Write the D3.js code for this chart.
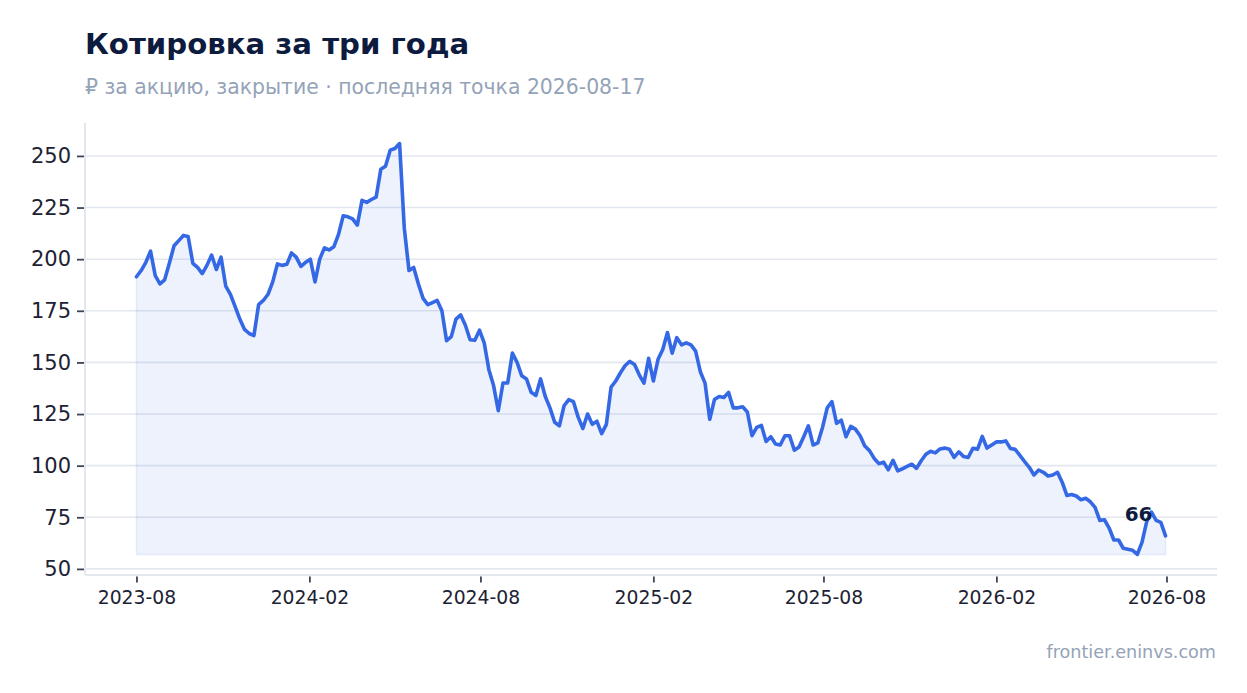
<!DOCTYPE html>
<html>
<head>
<meta charset="utf-8">
<script src="https://cdn.jsdelivr.net/npm/d3@7/dist/d3.min.js"></script>
<style>
  html, body { margin: 0; padding: 0; background: #ffffff; }
  svg { display: block; font-family: "DejaVu Sans", sans-serif; }
</style>
</head>
<body>
<svg id="chart" width="1247" height="693"></svg>
<script>
// ---------------- data ----------------
const startDate = "2023-08-18";   // first close
const stepDays = 5;               // one reading every 5 calendar days
const closes = [
  191.5, 194.5, 198.5, 203.9, 192, 188, 190, 198, 206.5, 209,
  211.5, 211, 198, 196, 193, 197, 202, 195, 201, 187,
  183, 177, 171, 166, 164, 163, 178, 180, 183, 189,
  197.7, 197, 197.5, 203, 201, 196.5, 198.5, 200, 189, 200,
  205.5, 204.5, 206, 212, 221, 220.5, 219.5, 216.5, 228.5, 227.5,
  228.9, 230, 243.5, 245, 252.8, 253.6, 256, 215, 194.5, 196,
  188, 181, 178, 179, 180, 175, 160.5, 162.5, 171, 173,
  168, 161, 160.7, 165.6, 159.5, 146.5, 138.8, 126.6, 140, 140,
  154.5, 150, 143.5, 142, 135.5, 134, 142, 133.5, 128, 121,
  119.3, 129, 132, 131, 123.5, 118, 125, 120, 121.5, 115.5,
  120, 138, 141, 145, 148.5, 150.5, 149, 144, 140, 152,
  141, 151.5, 156.3, 164.5, 154.5, 162, 158.5, 159.5, 158.5, 155.5,
  145.5, 140, 122.5, 132, 133.5, 133, 135.5, 128, 128, 128.5,
  126, 114.5, 118.5, 119.5, 111.7, 114, 110.5, 110, 114.5, 114.5,
  107.5, 109, 114, 119.3, 110, 111, 118.5, 128, 131, 120.5,
  122, 114, 119, 117.7, 114.5, 109.5, 107.3, 103.5, 101, 101.7,
  98, 102.6, 97.5, 98.5, 99.6, 100.7, 98.7, 102.4, 105.5, 107,
  106.2, 108.1, 108.5, 108, 104, 106.7, 104.4, 104, 108.4, 108,
  114.2, 108.5, 110, 111.5, 111.5, 112, 108.3, 107.9, 105, 102,
  99.2, 95.5, 97.9, 96.8, 95, 95.5, 96.8, 92, 85.6, 86,
  85.3, 83.5, 84.2, 82.5, 79.8, 73.5, 73.8, 69.8, 64, 64,
  60, 59.5, 59, 57, 63, 73, 77.5, 73.5, 72.5, 66
];
const xTickDates = ["2023-08-18", "2024-02-18", "2024-08-18", "2025-02-18", "2025-08-18", "2026-02-18", "2026-08-18"];
const yTicks = [50, 75, 100, 125, 150, 175, 200, 225, 250];
const titleText = "Котировка за три года";
const subtitleText = "₽ за акцию, закрытие · последняя точка 2026-08-17";
const sourceText = "frontier.eninvs.com";

// ---------------- build series ----------------
const parse = d3.utcParse("%Y-%m-%d");
const t0 = parse(startDate);
const series = closes.map((v, i) => ({ date: d3.utcDay.offset(t0, i * stepDays), value: v }));

// ---------------- layout ----------------
const svg = d3.select("#chart");
const plot = { left: 85, right: 1217, top: 123, bottom: 575 };

const dExt = d3.extent(series, d => d.date);
const dPad = (dExt[1] - dExt[0]) * 0.05;
const x = d3.scaleUtc()
  .domain([new Date(+dExt[0] - dPad), new Date(+dExt[1] + dPad)])
  .range([plot.left, plot.right]);

const vExt = d3.extent(series, d => d.value);
const vPad = (vExt[1] - vExt[0]) * 0.05;
const y = d3.scaleLinear()
  .domain([vExt[0] - vPad, vExt[1] + vPad])
  .range([plot.bottom, plot.top]);

// grid
svg.append("g")
  .selectAll("line")
  .data(yTicks)
  .join("line")
  .attr("x1", plot.left).attr("x2", plot.right)
  .attr("y1", d => y(d)).attr("y2", d => y(d))
  .attr("stroke", "#e3e7ef").attr("stroke-width", 1.6);

// area
const baseVal = vExt[0];
const area = d3.area()
  .x(d => x(d.date))
  .y0(y(baseVal))
  .y1(d => y(d.value));
svg.append("path")
  .datum(series)
  .attr("d", area)
  .attr("fill", "#3a6ae6").attr("fill-opacity", 0.09)
  .attr("stroke", "#3a6ae6").attr("stroke-opacity", 0.1).attr("stroke-width", 1.5);

// line
const line = d3.line().x(d => x(d.date)).y(d => y(d.value));
svg.append("path")
  .datum(series)
  .attr("d", line)
  .attr("fill", "none")
  .attr("stroke", "#3568e5")
  .attr("stroke-width", 3.6)
  .attr("stroke-linejoin", "round")
  .attr("stroke-linecap", "round");

// spines
svg.append("line")
  .attr("x1", plot.left).attr("x2", plot.left)
  .attr("y1", plot.top).attr("y2", plot.bottom)
  .attr("stroke", "#e3e7ef").attr("stroke-width", 2);
svg.append("line")
  .attr("x1", plot.left).attr("x2", plot.right)
  .attr("y1", plot.bottom).attr("y2", plot.bottom)
  .attr("stroke", "#e3e7ef").attr("stroke-width", 2);

// y axis
const yAxis = d3.axisLeft(y).tickValues(yTicks).tickSize(7).tickPadding(6).tickFormat(d3.format("d"));
const gy = svg.append("g").attr("transform", `translate(${plot.left - 1},0)`).call(yAxis);
gy.select(".domain").remove();
gy.selectAll(".tick line").attr("stroke", "#3d4454").attr("stroke-width", 1.8);
gy.selectAll(".tick text").attr("fill", "#1c2233").attr("font-size", 21).attr("font-family", "DejaVu Sans");

// x axis
const xAxis = d3.axisBottom(x)
  .tickValues(xTickDates.map(parse))
  .tickSize(6).tickPadding(8)
  .tickFormat(d3.utcFormat("%Y-%m"));
const gx = svg.append("g").attr("transform", `translate(0,${plot.bottom + 1.5})`).call(xAxis);
gx.select(".domain").remove();
gx.selectAll(".tick line").attr("stroke", "#3d4454").attr("stroke-width", 1.8);
gx.selectAll(".tick text").attr("fill", "#1c2233").attr("font-size", 18.8).attr("font-family", "DejaVu Sans");

// last value label
const last = series[series.length - 1];
svg.append("text")
  .attr("x", x(last.date) - 13)
  .attr("y", y(last.value) - 15)
  .attr("text-anchor", "end")
  .attr("font-size", 20).attr("font-weight", "bold")
  .attr("fill", "#0d1b3e")
  .text(d3.format("d")(Math.round(last.value)));

// titles
svg.append("text")
  .attr("x", 85).attr("y", 54)
  .attr("font-size", 29.2).attr("font-weight", "bold")
  .attr("fill", "#0d1b3e")
  .text(titleText);
svg.append("text")
  .attr("x", 85).attr("y", 94)
  .attr("font-size", 20.4)
  .attr("fill", "#94a3b8")
  .text(subtitleText);
svg.append("text")
  .attr("x", 1216).attr("y", 658)
  .attr("text-anchor", "end")
  .attr("font-size", 17.6)
  .attr("fill", "#94a3b8")
  .text(sourceText);
</script>
</body>
</html>
